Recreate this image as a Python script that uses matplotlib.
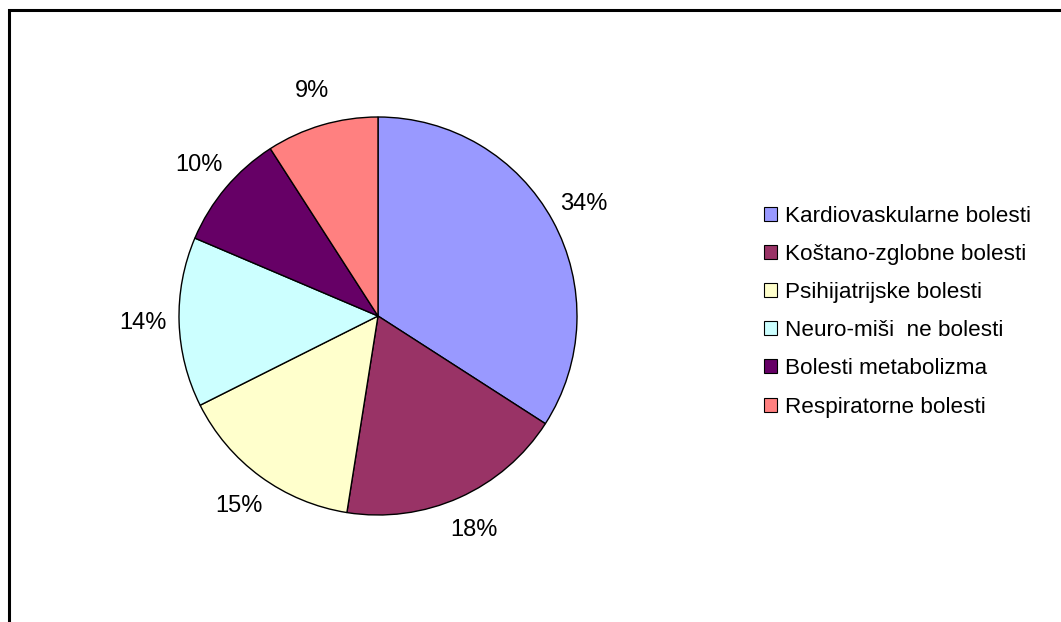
import matplotlib.pyplot as plt
from matplotlib.patches import Rectangle, Patch

categories = ["Kardiovaskularne bolesti", "Koštano-zglobne bolesti",
              "Psihijatrijske bolesti", "Neuro-miši  ne bolesti",
              "Bolesti metabolizma", "Respiratorne bolesti"]
shares = [34.1, 18.4, 15.1, 13.8, 9.5, 9.1]
pct_labels = ["34%", "18%", "15%", "14%", "10%", "9%"]
colors = ["#9999FF", "#993366", "#FFFFCC", "#CCFFFF", "#660066", "#FF8080"]

plt.rcParams['font.family'] = ['Liberation Sans', 'DejaVu Sans']

W, H = 1061, 622
fig = plt.figure(figsize=(W / 100, H / 100), dpi=100)

# outer frame (runs off the right and bottom edges)
fig.patches.append(Rectangle((9 / W, -0.05), 1.2, (H - 10) / H + 0.05,
                             transform=fig.transFigure, fill=False,
                             edgecolor="black", linewidth=2.2))

r = 199
cx, cy = 378, H - 316
ax = fig.add_axes([(cx - r) / W, (cy - r) / H, 2 * r / W, 2 * r / H])
wedges, texts = ax.pie(shares, colors=colors, startangle=90, counterclock=False,
                       labels=pct_labels, labeldistance=1.18,
                       wedgeprops=dict(edgecolor="black", linewidth=1),
                       textprops=dict(fontsize=17, ha="center", va="center"))
ax.set_xlim(-1, 1)
ax.set_ylim(-1, 1)
ax.axis("off")

handles = [Patch(facecolor=c, edgecolor="black", linewidth=0.8) for c in colors]
fig.legend(handles, categories, loc="upper left",
           bbox_to_anchor=(755 / W, 1 - 197 / H), frameon=False,
           fontsize=16.2, handlelength=0.58, handleheight=0.58,
           handletextpad=0.37, labelspacing=0.76, borderaxespad=0)

fig.savefig("out.png", dpi=100)
